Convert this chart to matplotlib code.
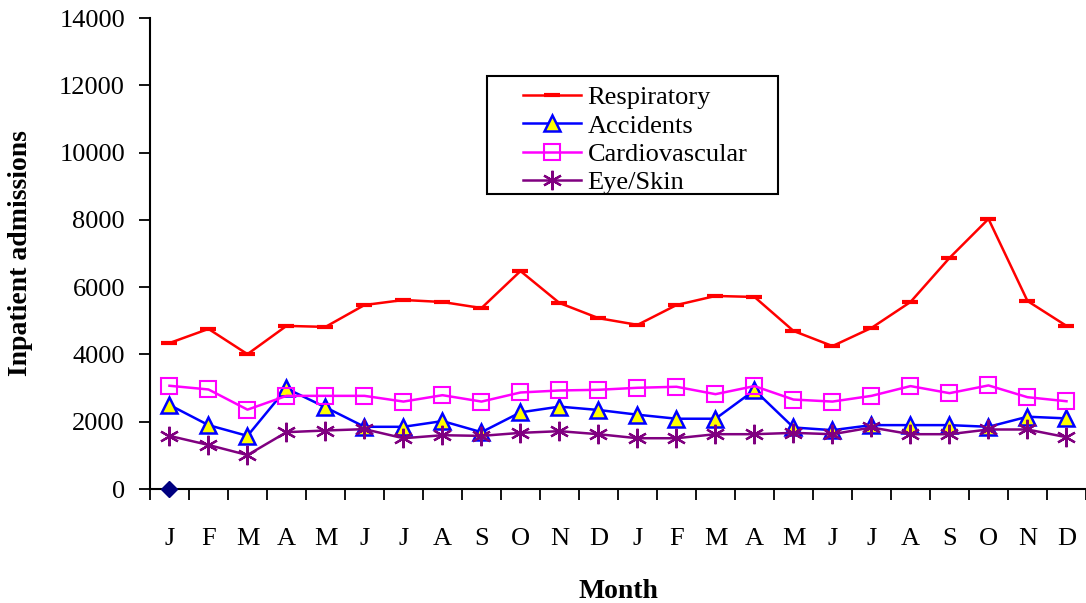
import numpy as np
import matplotlib.pyplot as plt
from matplotlib.patches import Rectangle
from matplotlib.ticker import FixedLocator

months = ['J', 'F', 'M', 'A', 'M', 'J', 'J', 'A', 'S', 'O', 'N', 'D'] * 2

respiratory = [4340, 4760, 4010, 4850, 4820, 5470, 5620, 5560, 5380, 6480, 5530, 5080,
               4880, 5470, 5740, 5710, 4700, 4250, 4790, 5560, 6870, 8030, 5590, 4850]
accidents = [2500, 1900, 1580, 2990, 2430, 1850, 1850, 2020, 1690, 2280, 2450, 2350,
             2210, 2090, 2090, 2940, 1830, 1750, 1900, 1900, 1900, 1850, 2150, 2100]
cardiovascular = [3070, 2960, 2360, 2770, 2770, 2770, 2600, 2790, 2600, 2870, 2930, 2950,
                  3010, 3040, 2820, 3060, 2660, 2600, 2770, 3060, 2850, 3080, 2730, 2610]
eye_skin = [1580, 1310, 1010, 1690, 1740, 1780, 1510, 1600, 1580, 1670, 1720, 1630,
            1510, 1510, 1630, 1630, 1670, 1630, 1830, 1630, 1630, 1770, 1770, 1540]
other = [0]

plt.rcParams['font.family'] = ['Liberation Serif', 'DejaVu Serif']

fig = plt.figure(figsize=(10.86, 6.03), dpi=100)
ax = fig.add_axes([0.1381, 0.189, 0.8619, 0.781])

x = np.arange(len(months))

ax.plot(x, respiratory, color='red', lw=1.8, marker='_', ms=12, mew=3,
        label='Respiratory')
ax.plot(x, accidents, color='blue', lw=1.8, marker='^', ms=12, mfc='yellow',
        mec='blue', mew=1.8, label='Accidents')
ax.plot(x, cardiovascular, color='magenta', lw=1.8, marker='s', ms=11, mfc='none',
        mec='magenta', mew=1.5, label='Cardiovascular')
ax.plot(x, eye_skin, color='purple', lw=1.8, marker=(6, 2, 0), ms=14, mew=1.6,
        label='Eye/Skin')
ax.plot(x[:len(other)], other, ls='none', marker='D', ms=8, color='navy',
        clip_on=False, zorder=5)

ax.set_xlim(-0.5, len(months) - 0.5)
ax.set_ylim(0, 14000)
ax.set_yticks(np.arange(0, 14001, 2000))
ax.set_xticks(x)
ax.set_xticklabels(months)
ax.xaxis.set_minor_locator(FixedLocator(np.arange(-0.5, len(months), 1)))

ax.tick_params(axis='x', which='major', length=0, pad=28, labelsize=19)
ax.tick_params(axis='x', which='minor', length=8, width=1.3, direction='out')
ax.tick_params(axis='y', length=8, width=1.3, direction='out', pad=10, labelsize=19)

for side in ['top', 'right']:
    ax.spines[side].set_visible(False)
for side in ['left', 'bottom']:
    ax.spines[side].set_linewidth(1.5)

ax.set_xlabel('Month', fontsize=20, fontweight='bold')
ax.xaxis.set_label_coords(0.501, -0.19)
ax.set_ylabel('Inpatient admissions', fontsize=20, fontweight='bold')
ax.yaxis.set_label_coords(-0.125, 0.5)

# legend box drawn separately so the entries can sit inset from the frame
ax.add_patch(Rectangle((0.360, 0.626), 0.311, 0.251, transform=ax.transAxes,
                       facecolor='white', edgecolor='black', lw=1.5, zorder=4))
leg = ax.legend(loc='upper left', bbox_to_anchor=(0.3985, 0.856), fontsize=19,
                frameon=False, labelspacing=0.18, handlelength=2.2,
                handletextpad=0.25, borderpad=0, borderaxespad=0)
leg.set_zorder(5)

fig.savefig('out.png', dpi=100)
